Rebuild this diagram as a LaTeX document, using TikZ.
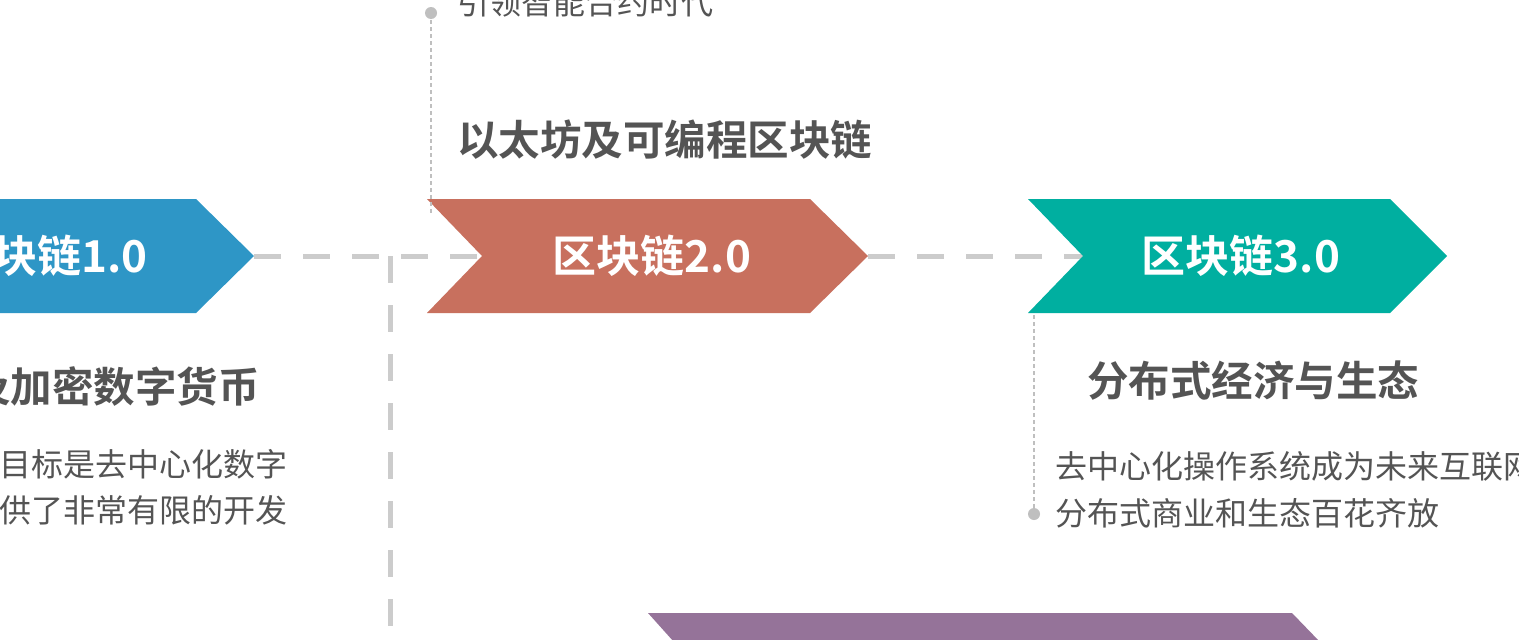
\documentclass[tikz,border=0pt]{standalone}
\usepackage{fontspec}
\setmainfont{Noto Sans CJK SC}
\newfontfamily\cjkb{Noto Sans CJK SC Bold}
\begin{document}
\begin{tikzpicture}[x=1pt,y=-1pt,
  hdash/.style={draw=black!20,line width=5pt,dash pattern=on 27pt off 22pt},
  thin/.style={draw=black!25,line width=1.5pt,dash pattern=on 4pt off 3pt},
  lbl/.style={font=\cjkb\fontsize{44}{48}\selectfont,text=white,inner sep=0},
  ttl/.style={font=\cjkb\fontsize{41.5}{46}\selectfont,text=black!67,inner sep=0},
  body/.style={font=\fontsize{32}{36}\selectfont,text=black!67,inner sep=0}]
\useasboundingbox (0,0) rectangle (1519,640);
\clip (0,0) rectangle (1519,640);
\fill[white] (0,0) rectangle (1519,640);
% dashed connectors
\coordinate (b1) at (254,256); \coordinate (o1) at (482,256);
\coordinate (o2) at (868,256); \coordinate (t1) at (1083,256);
\coordinate (v1) at (390,256); \coordinate (v2) at (390,645);
\draw[hdash] (b1) -- (o1);
\draw[hdash] (o2) -- (t1);
\draw[hdash] (v1) -- (v2);
% chevrons
\fill[fill={rgb,255:red,46;green,150;blue,198}] (-150,199) -- (196,199) -- (254,256) -- (196,313) -- (-150,313) -- cycle;
\fill[fill={rgb,255:red,200;green,112;blue,94}] (427,199) -- (810,199) -- (868,256) -- (810,313) -- (427,313) -- (482,256) -- cycle;
\fill[fill={rgb,255:red,0;green,175;blue,160}] (1028,199) -- (1390,199) -- (1447,256) -- (1390,313) -- (1028,313) -- (1083,256) -- cycle;
\fill[fill={rgb,255:red,149;green,115;blue,153}] (648,613) -- (1292,613) -- (1320,642) -- (674,642) -- cycle;
% thin lines
\coordinate (d1) at (431,13); \coordinate (d1e) at (431,213);
\coordinate (d2) at (1034,514); \coordinate (d2e) at (1034,315);
\draw[thin] (d1) -- (d1e);
\draw[thin] (d2e) -- (d2);
\fill[black!25] (d1) circle (6pt);
\fill[black!25] (d2) circle (6pt);
% labels
\node[lbl,anchor=east] (l1) at (148,256) {区块链1.0};
\node[lbl] (l2) at (652,256) {区块链2.0};
\node[lbl] (l3) at (1241,256) {区块链3.0};
\node[ttl,anchor=west] (tt2) at (457,140) {以太坊及可编程区块链};
\node[ttl,anchor=east] (tt1) at (260,387) {比特币及加密数字货币};
\node[ttl,anchor=west] (tt3) at (1087,381) {分布式经济与生态};
\node[body,anchor=west] (b2) at (457,2) {引领智能合约时代};
\node[body,anchor=east] (b1a) at (288,464) {比特币的目标是去中心化数字};
\node[body,anchor=east] (b1b) at (288,511) {货币，提供了非常有限的开发};
\node[body,anchor=west] (b3a) at (1055,466) {去中心化操作系统成为未来互联网};
\node[body,anchor=west] (b3b) at (1055,513) {分布式商业和生态百花齐放};
\end{tikzpicture}
\end{document}
